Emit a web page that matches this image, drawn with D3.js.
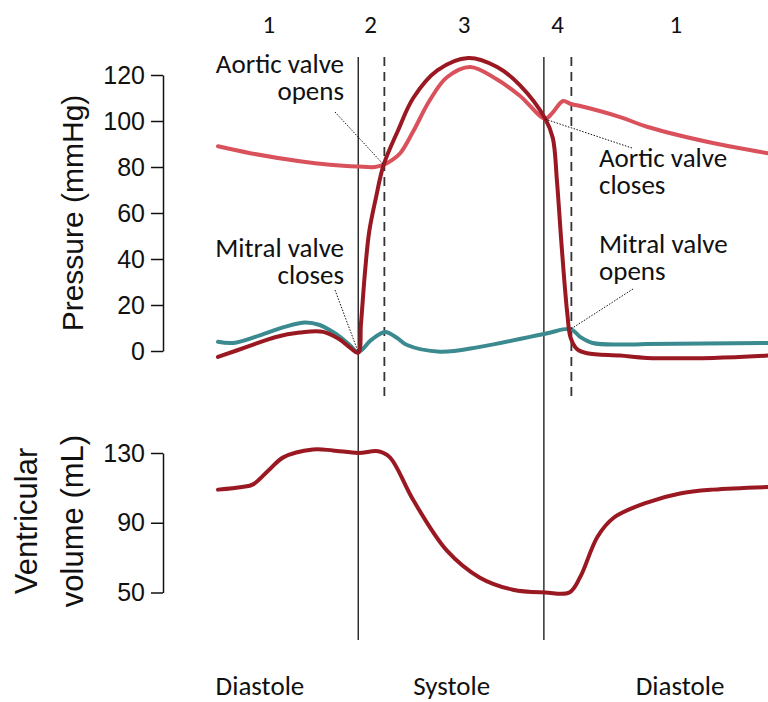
<!DOCTYPE html>
<html>
<head>
<meta charset="utf-8">
<title>Wiggers diagram</title>
<script src="https://cdn.jsdelivr.net/npm/d3@7"></script>
<style>
  body { margin: 0; background: #fff; }
  svg { display: block; }
  .tick-label { font-family: "Liberation Sans", Arial, sans-serif; font-size: 25px; fill: #111; }
  .axis-title { font-family: "Liberation Sans", Arial, sans-serif; font-size: 30px; fill: #111; }
  .note { font-family: Carlito, "Open Sans", sans-serif; font-size: 27px; fill: #111; }
  .phase { font-family: Carlito, "Open Sans", sans-serif; font-size: 25px; fill: #111; }
  .trace { fill: none; stroke-width: 4px; stroke-linejoin: round; stroke-linecap: round; }
</style>
</head>
<body>
<div id="chart"></div>
<script>
// time in ms across one cardiac cycle
var aorticT = [0, 47, 119, 163, 204, 228, 241, 253, 265, 284, 308, 333, 367, 406, 439, 476, 486, 502, 513, 527, 585, 624, 720, 800];
var aorticP = [89, 86, 82.5, 81, 80.2, 80, 81, 83, 86, 95.5, 109, 119, 123.5, 118, 111, 101, 103.4, 108.7, 107.4, 106.5, 101.7, 97.5, 90.4, 86];

var lvT = [0, 47, 83, 119, 153, 177, 192, 204, 208, 214, 220, 230, 241, 262, 284, 319, 364, 406, 439, 476, 487, 493, 500, 508, 513, 522, 537, 585, 624, 720, 800];
var lvP = [-2.6, 2.3, 6, 8, 8.3, 5, 1.5, -0.7, 12, 35, 52, 67, 81, 96, 110, 122, 127.4, 123.5, 115.6, 101, 92.6, 74, 45, 16.5, 5.7, 0.9, -1, -2, -3, -3, -2];

var atrialT = [0, 22, 61, 97, 127, 148, 163, 177, 192, 204, 223, 243, 260, 275, 323, 381, 476, 513, 527, 545, 585, 624, 800];
var atrialP = [4, 3.5, 6.8, 10.5, 12.4, 11.3, 9, 6.3, 2.5, -0.5, 4.8, 8.3, 5.8, 2.6, -0.3, 1.8, 7.5, 9.5, 6.1, 3.5, 2.8, 3, 3.5];

var volT = [0, 35, 51, 76, 95, 138, 167, 204, 233, 250, 284, 333, 381, 429, 476, 511, 527, 552, 576, 624, 672, 720, 800];
var volV = [109, 110.5, 112, 121, 127.5, 132, 131.5, 130, 131, 127.5, 103, 74, 58.5, 51.6, 50, 50, 59, 82, 93, 101.6, 106.8, 109, 110.5];

var pressureTicks = [0, 20, 40, 60, 80, 100, 120];
var volumeTicks = [50, 90, 130];

var valveTimes = [204, 474];      // solid lines
var valveTimesDashed = [242, 514];

var phaseLabels = ["1", "2", "3", "4", "1"];
var phaseTimes = [74, 222, 358, 494, 666];

var cycleLabels = ["Diastole", "Systole", "Diastole"];
var cycleTimes = [61, 340, 672];

var colors = { aortic: "#d9515b", lv: "#9a1822", atrial: "#3a8a90" };

var width = 768, height = 702;

var svg = d3.select("#chart").append("svg")
  .attr("width", width)
  .attr("height", height);

var x = d3.scaleLinear().domain([0, 800]).range([218, 768]);
var yP = d3.scaleLinear().domain([0, 120]).range([351, 75]);
var yV = d3.scaleLinear().domain([50, 130]).range([592.5, 453]);

// axes
var axisP = svg.append("g").attr("transform", "translate(163,0)")
  .call(d3.axisLeft(yP).tickValues(pressureTicks).tickSize(12).tickPadding(6).tickSizeOuter(0));
var axisV = svg.append("g").attr("transform", "translate(163,0)")
  .call(d3.axisLeft(yV).tickValues(volumeTicks).tickSize(12).tickPadding(6).tickSizeOuter(0));
[axisP, axisV].forEach(function(a) {
  a.select(".domain").attr("stroke", "#111").attr("stroke-width", 1.5);
  a.selectAll(".tick line").attr("stroke", "#111").attr("stroke-width", 1.5);
  a.selectAll(".tick text").attr("class", "tick-label").attr("font-size", null).attr("font-family", null).attr("fill", null);
});

svg.append("text").attr("class", "axis-title")
  .attr("transform", "translate(83,213) rotate(-90)")
  .attr("text-anchor", "middle")
  .text("Pressure (mmHg)");

var volTitle = svg.append("text").attr("class", "axis-title")
  .attr("transform", "translate(0,521) rotate(-90)")
  .attr("text-anchor", "middle")
  .style("font-size", "31px");
volTitle.append("tspan").attr("x", 0).attr("y", 37).text("Ventricular");
volTitle.append("tspan").attr("x", 0).attr("y", 83).text("volume (mL)");

// valve event lines
svg.selectAll(".solid").data(valveTimes).enter().append("line")
  .attr("x1", function(d) { return x(d); }).attr("x2", function(d) { return x(d); })
  .attr("y1", 57).attr("y2", 640)
  .attr("stroke", "#222").attr("stroke-width", 1.4);

svg.selectAll(".dashed").data(valveTimesDashed).enter().append("line")
  .attr("x1", function(d) { return x(d); }).attr("x2", function(d) { return x(d); })
  .attr("y1", 57).attr("y2", 400)
  .attr("stroke", "#333").attr("stroke-width", 1.8)
  .attr("stroke-dasharray", "9,6");

// traces
function trace(ts, vs, yScale, color) {
  var pts = ts.map(function(t, i) { return [t, vs[i]]; });
  var line = d3.line()
    .x(function(d) { return x(d[0]); })
    .y(function(d) { return yScale(d[1]); })
    .curve(d3.curveCatmullRom.alpha(0.5));
  svg.append("path").datum(pts).attr("class", "trace").attr("stroke", color).attr("d", line);
}

trace(atrialT, atrialP, yP, colors.atrial);
trace(aorticT, aorticP, yP, colors.aortic);
trace(lvT, lvP, yP, colors.lv);
trace(volT, volV, yV, colors.lv);

// annotations with dotted leaders
function leader(x1, y1, x2, y2) {
  svg.append("line")
    .attr("x1", x1).attr("y1", y1).attr("x2", x2).attr("y2", y2)
    .attr("stroke", "#111").attr("stroke-width", 1)
    .attr("stroke-dasharray", "1.5,1.5");
}

function note(lines, px, py, anchor) {
  var t = svg.append("text").attr("class", "note").attr("text-anchor", anchor);
  lines.forEach(function(s, i) {
    t.append("tspan").attr("x", px).attr("y", py + i * 27).text(s);
  });
}

note(["Aortic valve", "opens"], 344, 73, "end");
leader(335, 112, x(241), yP(81));

note(["Mitral valve", "closes"], 344, 257, "end");
leader(335, 290, x(204), yP(-0.5));

note(["Aortic valve", "closes"], 599, 167, "start");
leader(632, 148, x(474), yP(101));

note(["Mitral valve", "opens"], 599, 253, "start");
leader(633, 289, x(513), yP(9.5));

// phase numbers and cycle labels
svg.selectAll(".phase").data(phaseLabels).enter().append("text")
  .attr("class", "phase")
  .attr("x", function(d, i) { return x(phaseTimes[i]); })
  .attr("y", 33)
  .attr("text-anchor", "middle")
  .text(function(d) { return d; });

svg.selectAll(".cycle").data(cycleLabels).enter().append("text")
  .attr("class", "note")
  .attr("x", function(d, i) { return x(cycleTimes[i]); })
  .attr("y", 695)
  .attr("text-anchor", "middle")
  .text(function(d) { return d; });
</script>
</body>
</html>
